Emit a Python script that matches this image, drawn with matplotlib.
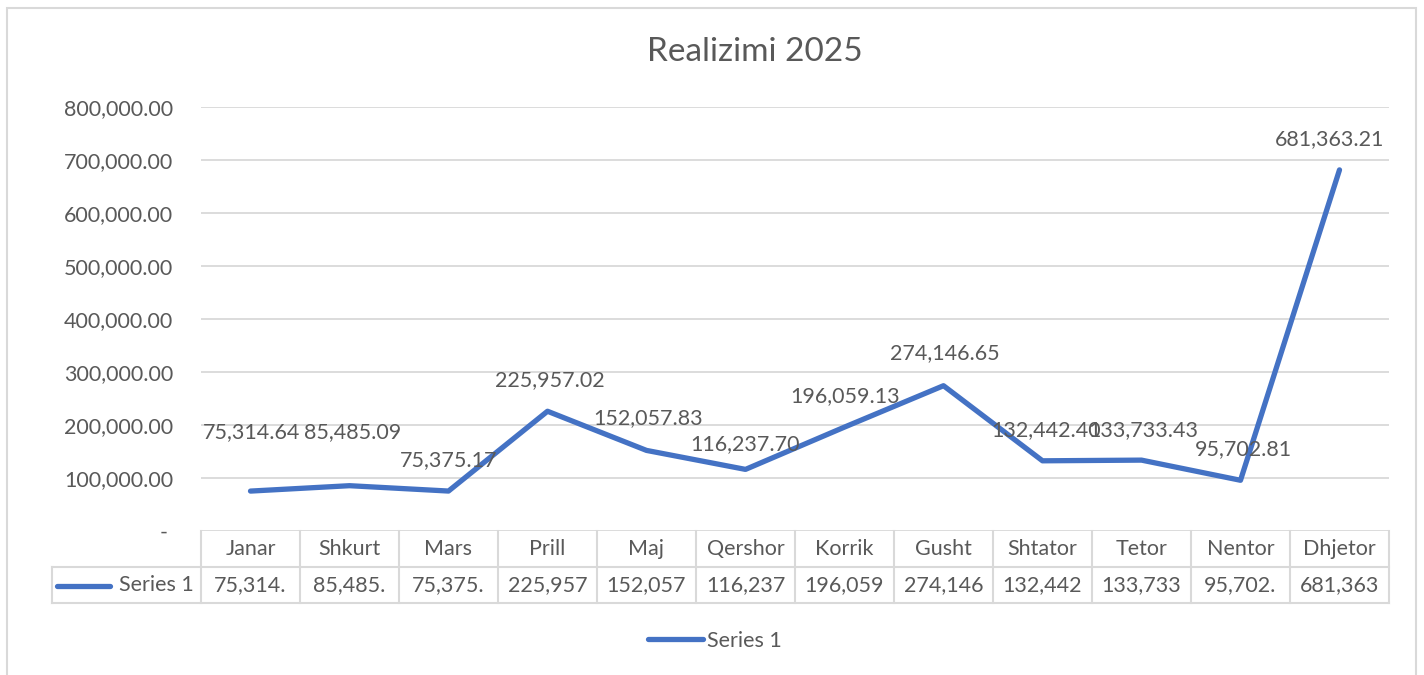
import matplotlib.pyplot as plt
from matplotlib.lines import Line2D
from matplotlib.patches import Rectangle
from matplotlib.ticker import FuncFormatter, MultipleLocator
import matplotlib.transforms as mtransforms

months = ["Janar", "Shkurt", "Mars", "Prill", "Maj", "Qershor",
          "Korrik", "Gusht", "Shtator", "Tetor", "Nentor", "Dhjetor"]
values = [75314.64, 85485.09, 75375.17, 225957.02, 152057.83, 116237.70,
          196059.13, 274146.65, 132442.40, 133733.43, 95702.81, 681363.21]
series_name = "Series 1"
title = "Realizimi 2025"

# label offsets above each point (pixels), Excel moved a few of them
label_dx = [1, 3, 0, 2, 2, 0, 1, 1, 4, 2, 3, -10]
label_dy = [59, 54, 31, 31, 32, 25, 31, 33, 31, 30, 31, 31]

W, H = 1424, 675
BLUE = "#4472C4"
GREY = "#595959"
LINE = "#d9d9d9"
FS = 15.5

plt.rcParams['font.family'] = ['Lato', 'DejaVu Sans']

fig = plt.figure(figsize=(W / 100, H / 100), dpi=100)


def fx(px):
    return px / W


def fy(py):
    return 1 - py / H


ax = fig.add_axes([fx(201), fy(531), fx(1389) - fx(201), fy(107) - fy(531)])
x = list(range(len(months)))
line, = ax.plot(x, values, color=BLUE, lw=3.8, solid_joinstyle='round',
                solid_capstyle='round', clip_on=False, zorder=3)
ax.set_xlim(-0.5, len(months) - 0.5)
ax.set_ylim(0, 800000)
ax.yaxis.set_major_locator(MultipleLocator(100000))
ax.yaxis.set_major_formatter(FuncFormatter(lambda v, p: "- " if v == 0 else f"{v:,.2f}"))
ax.set_xticks([])
ax.tick_params(axis='y', length=0, pad=20, labelsize=FS, labelcolor=GREY)
ax.grid(axis='y', color=LINE, lw=1.3)
for s in ax.spines.values():
    s.set_visible(False)

for i, v in enumerate(values):
    ax.annotate(f"{v:,.2f}", (i, v), xytext=(label_dx[i], label_dy[i]),
                textcoords='offset pixels', ha='center', va='center',
                fontsize=FS, color=GREY, zorder=4)

# data table under the plot
tr = mtransforms.blended_transform_factory(ax.transData, fig.transFigure)
ftr = fig.transFigure
n = len(months)
for b in range(n + 1):
    fig.add_artist(Line2D([b - 0.5, b - 0.5], [fy(531), fy(603)], color=LINE, lw=1.5, transform=tr))
for yy in (567, 603):
    fig.add_artist(Line2D([fx(52), fx(1389)], [fy(yy), fy(yy)], color=LINE, lw=1.5, transform=ftr))
fig.add_artist(Line2D([fx(52), fx(52)], [fy(567), fy(603)], color=LINE, lw=1.5, transform=ftr))
for i, m in enumerate(months):
    fig.text(i, fy(549), m, transform=tr, ha='center', va='center', fontsize=FS, color=GREY)
    fig.text(i, fy(585), f"{values[i]:,.2f}"[:7], transform=tr, ha='center', va='center',
             fontsize=FS, color=GREY)
fig.add_artist(Line2D([fx(57), fx(110)], [fy(586), fy(586)], color=BLUE, lw=3.8,
                      solid_capstyle='round', transform=ftr))
fig.text(fx(194), fy(585), series_name, ha='right', va='center', fontsize=FS, color=GREY)

fig.text(fx(755), fy(52), title, ha='center', va='center', fontsize=24, color=GREY)

fig.legend(handles=[line], labels=[series_name], loc='center',
           bbox_to_anchor=(fx(715), fy(641)), frameon=False, fontsize=FS,
           handlelength=2.55, handletextpad=0.2, labelcolor=GREY)

fig.add_artist(Rectangle((fx(7), -0.05), fx(1416) - fx(7), fy(8) + 0.05, fill=False,
                         edgecolor=LINE, lw=1.5, transform=ftr))

fig.savefig("out.png", dpi=100)
